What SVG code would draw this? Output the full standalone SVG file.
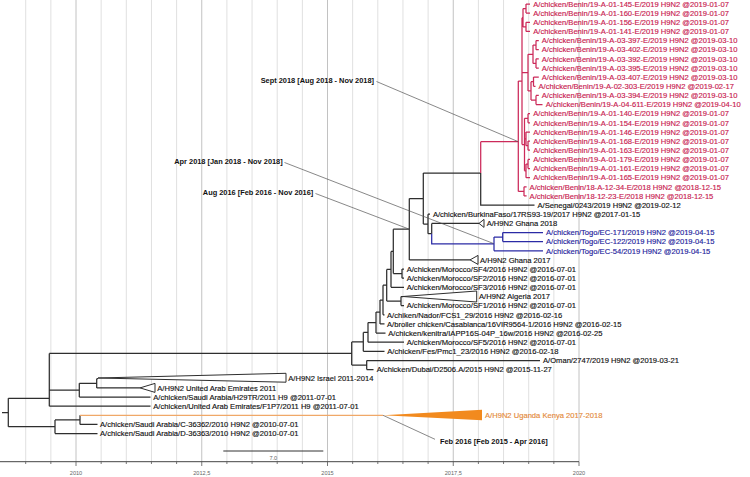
<svg xmlns="http://www.w3.org/2000/svg" width="750" height="477" viewBox="0 0 750 477">
<style>
.gm{stroke:#e0e0e0;stroke-width:1}
.gM{stroke:#c2c2c2;stroke-width:1}
.br{fill:none;stroke:#2e2e2e;stroke-width:1.25}
.red{stroke:#cc2a5a}
.blue{stroke:#2b2ba5}
.or{stroke:#f0a868}
.lead{fill:none;stroke:#555;stroke-width:0.7}
.tri{fill:#fff;stroke:#2e2e2e;stroke-width:1}
text{font-family:"Liberation Sans",Arial,sans-serif}
.t{font-size:7.6px;fill:#111;stroke:#111;stroke-width:0.15}
.tr{fill:#c8204f;stroke:#c8204f}
.tb{fill:#23239c;stroke:#23239c}
.to{fill:#e48a3a;stroke:#e48a3a}
.ann{font-size:7.4px;font-weight:bold;fill:#111}
.ax{font-size:5.6px;fill:#666;text-anchor:middle}
</style>
<rect width="750" height="477" fill="#fff"/>
<g id="grid">
<path class="gm" d="M25.7,0V461.7M50.85,0V461.7M101.15,0V461.7M126.3,0V461.7M151.45,0V461.7M176.6,0V461.7M226.9,0V461.7M252.05,0V461.7M277.2,0V461.7M302.35,0V461.7M352.65,0V461.7M377.8,0V461.7M402.95,0V461.7M428.1,0V461.7M478.4,0V461.7M503.55,0V461.7M528.7,0V461.7M553.85,0V461.7"/>
<path class="gM" d="M76,0V461.7M201.75,0V461.7M327.5,0V461.7M453.25,0V461.7M579,0V461.7"/>
</g>
<g id="axis">
<path fill="none" stroke="#444" stroke-width="1" d="M0,461.7H579"/>
<path fill="none" stroke="#555" stroke-width="0.8" d="M25.7,461.7V464M50.85,461.7V464M101.15,461.7V464M126.3,461.7V464M151.45,461.7V464M176.6,461.7V464M226.9,461.7V464M252.05,461.7V464M277.2,461.7V464M302.35,461.7V464M352.65,461.7V464M377.8,461.7V464M402.95,461.7V464M428.1,461.7V464M478.4,461.7V464M503.55,461.7V464M528.7,461.7V464M553.85,461.7V464M76,461.7V466M201.75,461.7V466M327.5,461.7V466M453.25,461.7V466M579,461.7V466"/>
<text class="ax" x="76" y="474.7">2010</text>
<text class="ax" x="201.75" y="474.7">2012,5</text>
<text class="ax" x="327.5" y="474.7">2015</text>
<text class="ax" x="453.25" y="474.7">2017,5</text>
<text class="ax" x="579" y="474.7">2020</text>
</g>
<g id="scale-bar">
<path fill="none" stroke="#333" stroke-width="1" d="M223.3,451H323.3"/>
<text class="ax" x="273.3" y="459.5">7.0</text>
</g>
<g id="connectors">
<path class="br" d="M2,412.5H8.3M8.3,398.3V426.7M8.3,398.3H49.3M8.3,426.7H55
M49.3,353.4V406.2M49.3,353.4H351.7M49.3,390.2H79.3M49.3,406.2H150.5
M79.3,383.3V397M79.3,383.3H96.7M79.3,397H150.5
M96.7,378.7V387.9M96.7,378.7H98M96.7,387.9H140
M55,419.9V433.6M55,419.9H80M55,433.6H97.5
M80,415.3V424.4M80,424.4H97.5
M351.7,341.9V365M351.7,341.9H363.3M351.7,365H366.7
M366.7,360.5V369.6M366.7,360.5H540M366.7,369.6H373.5
M363.3,332.4V351.3M363.3,332.4H368M363.3,351.3H384.5
M368,322.5V342.2M368,322.5H376M368,342.2H404
M376,312V333M376,312H380M376,333H385.5
M380,300V323.9M380,300H383M380,323.9H384.5
M383,285.2V314.8M383,285.2H386.7M383,314.8H384.5
M386.7,269.4V301M386.7,269.4H391M386.7,301H401
M401,296.5V305.6M401,296.5H403M401,305.6H404
M391,251.4V287.3M391,251.4H393.3M391,287.3H404
M393.3,229.2V273.6M393.3,229.2H409.3M393.3,273.6H402
M402,269.1V278.2M402,269.1H404M402,278.2H404
M409.3,198.5V259.9M409.3,198.5H423.3M409.3,259.9H470
M423.3,173V224M423.3,173H480.7M423.3,224H428
M428,214.2V233.7M428,214.2H430M428,233.7H431.7
M431.7,223.4V233.7M431.7,223.4H479
M480.7,173V205.1H534.5"/>
<path class="br red" d="M480.7,141.7V173M480.7,141.7H518.3
M518.3,81V191.4M518.3,81H522M518.3,191.4H524
M524,186.8V195.9M524,186.8H526.6M524,195.9H526.6
M522,17.7V144.5M522,17.7H523M522,72.6H528M522,144.5H524.5
M523,8.6V26.9M523,8.6H526M523,26.9H526
M526,4V13.1M526,4H530M526,13.1H530
M526,22.3V31.4M526,22.3H530M526,31.4H530
M528,54.3V90.9M528,54.3H533M528,90.9H531
M533,45.1V63.4M533,45.1H536M533,63.4H536
M536,40.6V49.7M536,40.6H538.8M536,49.7H538.8
M536,58.8V68M536,58.8H538.8M536,68H538.8
M531,81.7V100M531,81.7H533.5M531,100H536
M533.5,77.1V86.3M533.5,77.1H538.8M533.5,86.3H535.5
M536,95.4V104.5M536,95.4H538.8M536,104.5H542.5
M524.5,118.3V170.8M524.5,118.3H528M524.5,138.8H526M524.5,170.8H526
M528,113.7V122.8M528,113.7H530M528,122.8H530
M526,132V145.7M526,132H530M526,145.7H528
M528,141.1V150.2M528,141.1H530M528,150.2H530
M526,164V177.7M526,164H528M526,177.7H530
M528,159.4V168.5M528,159.4H530M528,168.5H530"/>
<path class="br blue" d="M431.7,233.7V243.9H494
M494,237.1V250.8M494,237.1H502.7M494,250.8H543
M502.7,232.5V241.6M502.7,232.5H543M502.7,241.6H543"/>
<path class="br or" d="M80,415.3H383"/>
<path class="lead" d="M376.5,81.5L518.3,141.7M284.5,162.5L493.5,243.5M315.5,193.5L409.3,229.2M435,439.3L383,415.3"/>
</g>
<g id="annotations">
<g id="ann-sept"><text class="ann" x="374" y="83.3" text-anchor="end">Sept 2018 [Aug 2018 - Nov 2018]</text></g>
<g id="ann-apr"><text class="ann" x="282.7" y="164.3" text-anchor="end">Apr 2018 [Jan 2018 - Nov 2018]</text></g>
<g id="ann-aug"><text class="ann" x="313.3" y="195.3" text-anchor="end">Aug 2016 [Feb 2016 - Nov 2016]</text></g>
<g id="ann-feb"><text class="ann" x="440" y="444.3">Feb 2016 [Feb 2015 - Apr 2016]</text></g>
</g>
<g id="tips">
<g id="benin-145"><text class="t tr" x="533.3" y="6.7">A/chicken/Benin/19-A-01-145-E/2019 H9N2 @2019-01-07</text></g>
<g id="benin-160"><text class="t tr" x="533.3" y="15.8">A/chicken/Benin/19-A-01-160-E/2019 H9N2 @2019-01-07</text></g>
<g id="benin-156"><text class="t tr" x="533.3" y="25">A/chicken/Benin/19-A-01-156-E/2019 H9N2 @2019-01-07</text></g>
<g id="benin-141"><text class="t tr" x="533.3" y="34.1">A/chicken/Benin/19-A-01-141-E/2019 H9N2 @2019-01-07</text></g>
<g id="benin-397"><text class="t tr" x="541.8" y="43.3">A/chicken/Benin/19-A-03-397-E/2019 H9N2 @2019-03-10</text></g>
<g id="benin-402"><text class="t tr" x="541.8" y="52.4">A/chicken/Benin/19-A-03-402-E/2019 H9N2 @2019-03-10</text></g>
<g id="benin-392"><text class="t tr" x="541.8" y="61.5">A/chicken/Benin/19-A-03-392-E/2019 H9N2 @2019-03-10</text></g>
<g id="benin-395"><text class="t tr" x="541.8" y="70.7">A/chicken/Benin/19-A-03-395-E/2019 H9N2 @2019-03-10</text></g>
<g id="benin-407"><text class="t tr" x="541.8" y="79.8">A/chicken/Benin/19-A-03-407-E/2019 H9N2 @2019-03-10</text></g>
<g id="benin-303"><text class="t tr" x="538.5" y="89">A/chicken/Benin/19-A-02-303-E/2019 H9N2 @2019-02-17</text></g>
<g id="benin-394"><text class="t tr" x="541.8" y="98.1">A/chicken/Benin/19-A-03-394-E/2019 H9N2 @2019-03-10</text></g>
<g id="benin-611"><text class="t tr" x="545.8" y="107.2">A/chicken/Benin/19-A-04-611-E/2019 H9N2 @2019-04-10</text></g>
<g id="benin-140"><text class="t tr" x="533.3" y="116.4">A/chicken/Benin/19-A-01-140-E/2019 H9N2 @2019-01-07</text></g>
<g id="benin-154"><text class="t tr" x="533.3" y="125.5">A/chicken/Benin/19-A-01-154-E/2019 H9N2 @2019-01-07</text></g>
<g id="benin-146"><text class="t tr" x="533.3" y="134.7">A/chicken/Benin/19-A-01-146-E/2019 H9N2 @2019-01-07</text></g>
<g id="benin-168"><text class="t tr" x="533.3" y="143.8">A/chicken/Benin/19-A-01-168-E/2019 H9N2 @2019-01-07</text></g>
<g id="benin-163"><text class="t tr" x="533.3" y="152.9">A/chicken/Benin/19-A-01-163-E/2019 H9N2 @2019-01-07</text></g>
<g id="benin-179"><text class="t tr" x="533.3" y="162.1">A/chicken/Benin/19-A-01-179-E/2019 H9N2 @2019-01-07</text></g>
<g id="benin-161"><text class="t tr" x="533.3" y="171.2">A/chicken/Benin/19-A-01-161-E/2019 H9N2 @2019-01-07</text></g>
<g id="benin-165"><text class="t tr" x="533.3" y="180.4">A/chicken/Benin/19-A-01-165-E/2019 H9N2 @2019-01-07</text></g>
<g id="benin-18-34"><text class="t tr" x="529.6" y="189.5">A/chicken/Benin/18-A-12-34-E/2018 H9N2 @2018-12-15</text></g>
<g id="benin-18-23"><text class="t tr" x="529.6" y="198.6">A/chicken/Benin/18-12-23-E/2018 H9N2 @2018-12-15</text></g>
<g id="senegal"><text class="t" x="537.5" y="207.8">A/Senegal/0243/2019 H9N2 @2019-02-12</text></g>
<g id="burkina"><text class="t" x="432.9" y="216.9">A/chicken/BurkinaFaso/17RS93-19/2017 H9N2 @2017-01-15</text></g>
<g id="ghana-2018"><path class="tri" d="M479,223.4L484,219.4V227.4Z"/><text class="t" x="486.7" y="226.1">A/H9N2 Ghana 2018</text></g>
<g id="togo-171"><text class="t tb" x="546" y="235.2">A/chicken/Togo/EC-171/2019 H9N2 @2019-04-15</text></g>
<g id="togo-122"><text class="t tb" x="546" y="244.3">A/chicken/Togo/EC-122/2019 H9N2 @2019-04-15</text></g>
<g id="togo-54"><text class="t tb" x="546" y="253.5">A/chicken/Togo/EC-54/2019 H9N2 @2019-04-15</text></g>
<g id="ghana-2017"><path class="tri" d="M470,259.9L478,255.4V264.4Z"/><text class="t" x="480" y="262.6">A/H9N2 Ghana 2017</text></g>
<g id="morocco-sf4"><text class="t" x="406.7" y="271.8">A/chicken/Morocco/SF4/2016 H9N2 @2016-07-01</text></g>
<g id="morocco-sf2"><text class="t" x="406.7" y="280.9">A/chicken/Morocco/SF2/2016 H9N2 @2016-07-01</text></g>
<g id="morocco-sf3"><text class="t" x="406.7" y="290">A/chicken/Morocco/SF3/2016 H9N2 @2016-07-01</text></g>
<g id="algeria-2017"><path class="tri" d="M403,296.5L476.7,291V302Z"/><text class="t" x="479" y="299.2">A/H9N2 Algeria 2017</text></g>
<g id="morocco-sf1"><text class="t" x="406.7" y="308.3">A/chicken/Morocco/SF1/2016 H9N2 @2016-07-01</text></g>
<g id="nador"><text class="t" x="387" y="317.5">A/chiken/Nador/FCS1_29/2016 H9N2 @2016-02-16</text></g>
<g id="casablanca"><text class="t" x="387" y="326.6">A/broiler chicken/Casablanca/16VIR9564-1/2016 H9N2 @2016-02-15</text></g>
<g id="kenitra"><text class="t" x="388.3" y="335.7">A/chicken/kenitra/IAPP16S-04P_16w/2016 H9N2 @2016-02-25</text></g>
<g id="morocco-sf5"><text class="t" x="406.7" y="344.9">A/chicken/Morocco/SF5/2016 H9N2 @2016-07-01</text></g>
<g id="fes"><text class="t" x="387.3" y="354">A/chicken/Fes/Pmc1_23/2016 H9N2 @2016-02-18</text></g>
<g id="oman"><text class="t" x="543" y="363.2">A/Oman/2747/2019 H9N2 @2019-03-21</text></g>
<g id="dubai"><text class="t" x="376.7" y="372.3">A/chicken/Dubai/D2506.A/2015 H9N2 @2015-11-27</text></g>
<g id="israel"><path class="tri" d="M98,378L286,373.3V382.2Z"/><text class="t" x="288.3" y="381.4">A/H9N2 Israel 2011-2014</text></g>
<g id="uae-2011"><path class="tri" d="M140,387.9L155,383.4V392.4Z"/><text class="t" x="157.3" y="390.6">A/H9N2 United Arab Emirates 2011</text></g>
<g id="saudi-h29tr"><text class="t" x="153.3" y="399.7">A/chicken/Saudi Arabia/H29TR/2011 H9 @2011-07-01</text></g>
<g id="uae-f1p7"><text class="t" x="153.3" y="408.9">A/chicken/United Arab Emirates/F1P7/2011 H9 @2011-07-01</text></g>
<g id="uganda-kenya"><path fill="#f28a1e" d="M383,415.3L482,409.8V420.3Z"/><text class="t to" x="485" y="418">A/H9N2 Uganda Kenya 2017-2018</text></g>
<g id="saudi-c36362"><text class="t" x="100" y="427.1">A/chicken/Saudi Arabia/C-36362/2010 H9N2 @2010-07-01</text></g>
<g id="saudi-d36363"><text class="t" x="100" y="436.3">A/chicken/Saudi Arabia/D-36363/2010 H9N2 @2010-07-01</text></g>
</g>
</svg>
